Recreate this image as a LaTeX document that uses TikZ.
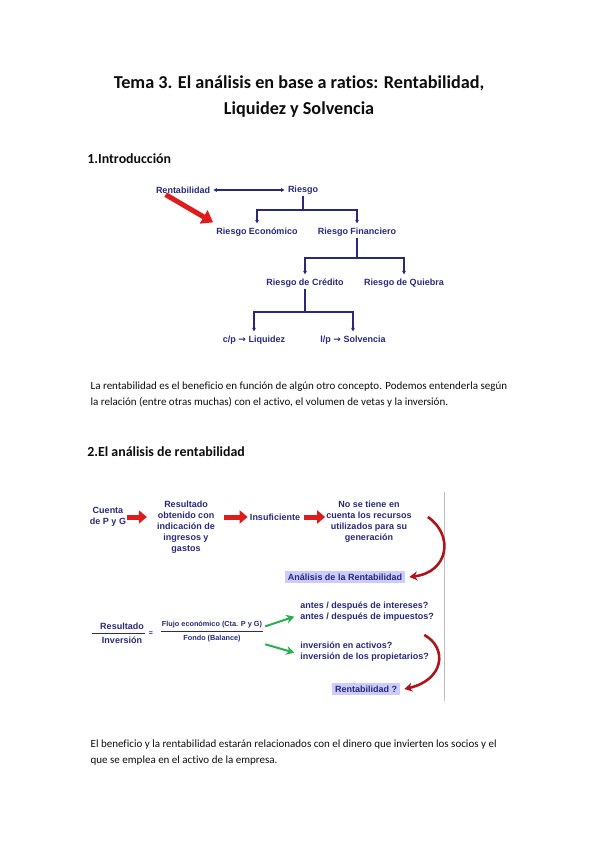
\documentclass[tikz,border=0pt]{standalone}
\usepackage{fontspec}
\setmainfont[Ligatures=NoCommon]{Carlito}
\newfontfamily\diagfont{Liberation Sans}
\newfontfamily\arrowfont{DejaVu Sans}
\usetikzlibrary{arrows.meta}
\definecolor{ink}{gray}{0.05}
\definecolor{navy}{RGB}{40,40,125}
\definecolor{blockred}{RGB}{222,28,28}
\definecolor{darkred}{RGB}{175,20,25}
\definecolor{leaf}{RGB}{40,175,80}
\definecolor{lavender}{RGB}{204,204,255}
\definecolor{rule}{gray}{0.75}
\newcommand{\rarr}{{\arrowfont\bfseries →}}

\tikzset{
  diag/.style={text=navy, inner sep=1pt, font=\diagfont\bfseries\fontsize{9}{11}\selectfont},
  tree/.style={navy, line width=1.2pt},
  treearrow/.style={tree, -{Triangle[length=3.5pt,width=3.5pt]}},
  block/.style={blockred, line width=5pt, -{Triangle[length=8pt,width=13pt]}},
  curvearrow/.style={darkred, line width=2.6pt, -{Stealth[length=8pt,width=9pt]}},
  greenarrow/.style={leaf, line width=2pt, -{Stealth[length=8pt,width=9pt]}},
  hilite/.style={diag, fill=lavender, inner sep=3pt},
  body/.style={text=ink, anchor=base west, font=\fontsize{11}{16}\selectfont},
  titletext/.style={text=ink, anchor=base, font=\bfseries\fontsize{18.2}{22}\selectfont},
  headtext/.style={text=ink, anchor=base west, inner sep=0pt, font=\bfseries\fontsize{13.9}{17}\selectfont}
}

\begin{document}
\begin{tikzpicture}[x=1pt, y=-1pt, line width=0.7pt]
  \useasboundingbox (0,0) rectangle (599,848);

  % title and headings
  \node[titletext] (title1) at (299,89) {Tema 3. El análisis en base a ratios: Rentabilidad,};
  \node[titletext] (title2) at (299,114) {Liquidez y Solvencia};
  \node[headtext] (head1) at (87,163) {1.Introducción};

  % risk tree
  \node[diag] (ren)   at (183,190) {Rentabilidad};
  \node[diag] (rie)   at (303,190) {Riesgo};
  \node[diag] (reco)  at (257,232) {Riesgo Económico};
  \node[diag] (rfin)  at (357,232) {Riesgo Financiero};
  \node[diag] (rcred) at (305,283) {Riesgo de Crédito};
  \node[diag] (rquie) at (404,283) {Riesgo de Quiebra};
  \node[diag] (liq)   at (254,340) {c/p \rarr{} Liquidez};
  \node[diag] (solv)  at (353,340) {l/p \rarr{} Solvencia};

  \draw[tree, {Triangle[length=3.5pt,width=3.5pt]}-{Triangle[length=3.5pt,width=3.5pt]}, shorten <=2pt, shorten >=2pt] (ren) -- (rie);
  \coordinate (j1) at (303,210);
  \coordinate (j2) at (357,258);
  \coordinate (j3) at (305,312);
  \draw[tree] (rie) -- (j1);
  \draw[treearrow] (j1) -| ([yshift=3pt]reco.north);
  \draw[treearrow] (j1) -| ([yshift=3pt]rfin.north);
  \draw[tree] (rfin) -- (j2);
  \draw[treearrow] (j2) -| ([yshift=3pt]rcred.north);
  \draw[treearrow] (j2) -| ([yshift=3pt]rquie.north);
  \draw[tree] (rcred) -- (j3);
  \draw[treearrow] (j3) -| ([yshift=3pt]liq.north);
  \draw[treearrow] (j3) -| ([yshift=3pt]solv.north);
  % red pointer
  \draw[blockred, line width=5pt, -{Triangle[length=11pt,width=15pt]}] ([xshift=11pt]ren.south west) -- ([xshift=-2pt,yshift=4pt]reco.north west);

  \node[body] (par1) at (87,389) {La rentabilidad es el beneficio en función de algún otro concepto. Podemos entenderla según};
  \node[body] (par2) at (87,405) {la relación (entre otras muchas) con el activo, el volumen de vetas y la inversión.};

  \node[headtext] (head2) at (87,456) {2.El análisis de rentabilidad};

  % profitability chain
  \draw[rule, line width=0.8pt] (444,492) -- (444,701);
  \node[diag, align=center] (cuenta) at (108,517) {Cuenta\\de P y G};
  \node[diag, align=center] (resul)  at (186,527) {Resultado\\obtenido con\\indicación de\\ingresos y\\gastos};
  \node[diag] (insuf) at (275,517) {Insuficiente};
  \node[diag, align=center] (nose) at (369,522) {No se tiene en\\cuenta los recursos\\utilizados para su\\generación};
  \node[hilite] (anal) at (345,577) {Análisis de la Rentabilidad};

  \draw[block, shorten >=9pt] (cuenta.east) -- (cuenta.east -| resul.west);
  \draw[block, shorten <=8pt, shorten >=1pt] (insuf.west -| resul.east) -- (insuf.west);
  \draw[block, shorten <=3pt] (insuf.east) -- (insuf.east -| nose.west);
  \draw[curvearrow] ([xshift=15pt,yshift=5pt]nose.east) .. controls (454,535) and (449,572) .. ([xshift=4pt]anal.east);

  % ratio
  \node[diag] (res) at (122,626) {Resultado};
  \node[diag] (inv) at (122,640) {Inversión};
  \draw[navy, line width=0.9pt] ([xshift=-7pt,yshift=-3pt]res.south west) -- ([yshift=-3pt]res.south east);
  \node[diag, font=\diagfont\bfseries\fontsize{7}{8}\selectfont] (eq) at (151,634) {=};
  \node[diag, font=\diagfont\bfseries\fontsize{7.3}{8}\selectfont] (flujo) at (212,625) {Flujo económico (Cta. P y G)};
  \node[diag, font=\diagfont\bfseries\fontsize{7.3}{8}\selectfont] (fondo) at (212,639) {Fondo (Balance)};
  \draw[navy, line width=0.9pt] ([yshift=-2pt]flujo.south west) -- ([yshift=-2pt]flujo.south east);

  \node[diag, align=left, anchor=west] (q1) at (299,612) {antes / después de intereses?\\antes / después de impuestos?};
  \node[diag, align=left, anchor=west] (q2) at (299,652) {inversión en activos?\\inversión de los propietarios?};
  \node[hilite] (rent) at (366,689) {Rentabilidad ?};

  \draw[greenarrow, shorten <=2pt, shorten >=5pt] ([yshift=-2pt]flujo.east) -- ([yshift=-3pt]q1.west);
  \draw[greenarrow, shorten <=2pt, shorten >=5pt] (flujo.east |- fondo.south) -- ([yshift=-2pt]q2.west);
  \draw[curvearrow] ([xshift=-6pt,yshift=6pt]q2.north east) .. controls (448,648) and (444,680) .. ([xshift=4pt]rent.east);

  \node[body] (par3) at (87,747) {El beneficio y la rentabilidad estarán relacionados con el dinero que invierten los socios y el};
  \node[body] (par4) at (87,763) {que se emplea en el activo de la empresa.};
\end{tikzpicture}
\end{document}
